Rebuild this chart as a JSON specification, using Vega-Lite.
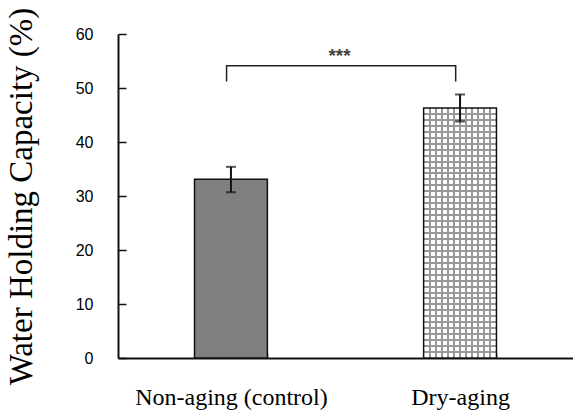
{
  "$schema": "https://vega.github.io/schema/vega-lite/v6.json",
  "autosize": {"type": "none"},
  "padding": {"left": 118, "top": 34, "right": 0, "bottom": 54},
  "width": 455,
  "height": 324,
  "background": "white",
  "config": {"view": {"stroke": null}},
  "datasets": {
    "bars": [
      {"group": "Non-aging (control)", "wh": 33.1, "lo": 30.7, "hi": 35.4},
      {"group": "Dry-aging", "wh": 46.3, "lo": 43.8, "hi": 48.8}
    ],
    "bracket": [
      {"group": "Non-aging (control)", "v": 51.2, "o": 1},
      {"group": "Non-aging (control)", "v": 54.1, "o": 2},
      {"group": "Dry-aging", "v": 54.1, "o": 3},
      {"group": "Dry-aging", "v": 51.2, "o": 4}
    ],
    "sig": [
      {"group": "Non-aging (control)", "v": 56.0, "label": "***"}
    ]
  },
  "encoding": {
    "x": {
      "field": "group",
      "type": "nominal",
      "sort": ["Non-aging (control)", "Dry-aging"],
      "scale": {"paddingInner": 0.682, "paddingOuter": 0.334},
      "axis": {
        "title": null,
        "tickBand": "extent",
        "tickSize": -5,
        "tickColor": "#111",
        "tickWidth": 1.5,
        "domainColor": "#111",
        "domainWidth": 2,
        "labelAngle": 0,
        "labelLimit": 0,
        "labelFont": "Liberation Serif",
        "labelFontSize": 24,
        "labelColor": "#000",
        "labelPadding": 51,
        "labelBaseline": "alphabetic"
      }
    }
  },
  "layer": [
    {
      "data": {"name": "bars"},
      "mark": {"type": "bar", "fill": "#808080"},
      "encoding": {
        "y": {
          "field": "wh",
          "type": "quantitative",
          "scale": {"domain": [0, 60], "nice": false},
          "axis": {
            "values": [0, 10, 20, 30, 40, 50, 60],
            "grid": false,
            "tickSize": -8,
            "tickColor": "#111",
            "tickWidth": 1.5,
            "domainColor": "#111",
            "domainWidth": 2,
            "labelFont": "Liberation Sans",
            "labelFontSize": 16,
            "labelColor": "#000",
            "labelPadding": 33,
            "title": "Water Holding Capacity (%)",
            "titleFont": "Liberation Serif",
            "titleFontSize": 33,
            "titleFontWeight": "normal",
            "titleColor": "#000",
            "titleAngle": -90,
            "titleX": -87,
            "titleY": 162,
            "titleAlign": "center",
            "titleBaseline": "alphabetic"
          }
        }
      }
    },
    {
      "data": {"name": "bars"},
      "transform": [{"filter": "datum.group === 'Dry-aging'"}],
      "mark": {
        "type": "bar",
        "fill": {
          "gradient": "linear", "x1": 0, "y1": 0, "x2": 1, "y2": 0,
          "stops": [
            {"offset": 0, "color": "#ffffff"},
            {"offset": 0.0693, "color": "#ffffff"}, {"offset": 0.0693, "color": "#999999"}, {"offset": 0.0973, "color": "#999999"}, {"offset": 0.0973, "color": "#ffffff"},
            {"offset": 0.1527, "color": "#ffffff"}, {"offset": 0.1527, "color": "#999999"}, {"offset": 0.1807, "color": "#999999"}, {"offset": 0.1807, "color": "#ffffff"},
            {"offset": 0.2360, "color": "#ffffff"}, {"offset": 0.2360, "color": "#999999"}, {"offset": 0.2640, "color": "#999999"}, {"offset": 0.2640, "color": "#ffffff"},
            {"offset": 0.3193, "color": "#ffffff"}, {"offset": 0.3193, "color": "#999999"}, {"offset": 0.3473, "color": "#999999"}, {"offset": 0.3473, "color": "#ffffff"},
            {"offset": 0.4027, "color": "#ffffff"}, {"offset": 0.4027, "color": "#999999"}, {"offset": 0.4307, "color": "#999999"}, {"offset": 0.4307, "color": "#ffffff"},
            {"offset": 0.4860, "color": "#ffffff"}, {"offset": 0.4860, "color": "#999999"}, {"offset": 0.5140, "color": "#999999"}, {"offset": 0.5140, "color": "#ffffff"},
            {"offset": 0.5693, "color": "#ffffff"}, {"offset": 0.5693, "color": "#999999"}, {"offset": 0.5973, "color": "#999999"}, {"offset": 0.5973, "color": "#ffffff"},
            {"offset": 0.6527, "color": "#ffffff"}, {"offset": 0.6527, "color": "#999999"}, {"offset": 0.6807, "color": "#999999"}, {"offset": 0.6807, "color": "#ffffff"},
            {"offset": 0.7360, "color": "#ffffff"}, {"offset": 0.7360, "color": "#999999"}, {"offset": 0.7640, "color": "#999999"}, {"offset": 0.7640, "color": "#ffffff"},
            {"offset": 0.8193, "color": "#ffffff"}, {"offset": 0.8193, "color": "#999999"}, {"offset": 0.8473, "color": "#999999"}, {"offset": 0.8473, "color": "#ffffff"},
            {"offset": 0.9027, "color": "#ffffff"}, {"offset": 0.9027, "color": "#999999"}, {"offset": 0.9307, "color": "#999999"}, {"offset": 0.9307, "color": "#ffffff"},
            {"offset": 1, "color": "#ffffff"}
          ]
        }
      },
      "encoding": {"y": {"field": "wh", "type": "quantitative"}}
    },
    {
      "data": {"name": "bars"},
      "transform": [{"filter": "datum.group === 'Dry-aging'"}],
      "mark": {
        "type": "bar",
        "fill": {
          "gradient": "linear", "x1": 0, "y1": 0, "x2": 0, "y2": 1,
          "stops": [
            {"offset": 0, "color": "rgba(153,153,153,0)"},
            {"offset": 0.0198, "color": "rgba(153,153,153,0)"}, {"offset": 0.0198, "color": "#999999"}, {"offset": 0.0278, "color": "#999999"}, {"offset": 0.0278, "color": "rgba(153,153,153,0)"},
            {"offset": 0.0436, "color": "rgba(153,153,153,0)"}, {"offset": 0.0436, "color": "#999999"}, {"offset": 0.0516, "color": "#999999"}, {"offset": 0.0516, "color": "rgba(153,153,153,0)"},
            {"offset": 0.0674, "color": "rgba(153,153,153,0)"}, {"offset": 0.0674, "color": "#999999"}, {"offset": 0.0754, "color": "#999999"}, {"offset": 0.0754, "color": "rgba(153,153,153,0)"},
            {"offset": 0.0912, "color": "rgba(153,153,153,0)"}, {"offset": 0.0912, "color": "#999999"}, {"offset": 0.0992, "color": "#999999"}, {"offset": 0.0992, "color": "rgba(153,153,153,0)"},
            {"offset": 0.1150, "color": "rgba(153,153,153,0)"}, {"offset": 0.1150, "color": "#999999"}, {"offset": 0.1230, "color": "#999999"}, {"offset": 0.1230, "color": "rgba(153,153,153,0)"},
            {"offset": 0.1389, "color": "rgba(153,153,153,0)"}, {"offset": 0.1389, "color": "#999999"}, {"offset": 0.1469, "color": "#999999"}, {"offset": 0.1469, "color": "rgba(153,153,153,0)"},
            {"offset": 0.1627, "color": "rgba(153,153,153,0)"}, {"offset": 0.1627, "color": "#999999"}, {"offset": 0.1707, "color": "#999999"}, {"offset": 0.1707, "color": "rgba(153,153,153,0)"},
            {"offset": 0.1865, "color": "rgba(153,153,153,0)"}, {"offset": 0.1865, "color": "#999999"}, {"offset": 0.1945, "color": "#999999"}, {"offset": 0.1945, "color": "rgba(153,153,153,0)"},
            {"offset": 0.2103, "color": "rgba(153,153,153,0)"}, {"offset": 0.2103, "color": "#999999"}, {"offset": 0.2183, "color": "#999999"}, {"offset": 0.2183, "color": "rgba(153,153,153,0)"},
            {"offset": 0.2341, "color": "rgba(153,153,153,0)"}, {"offset": 0.2341, "color": "#999999"}, {"offset": 0.2421, "color": "#999999"}, {"offset": 0.2421, "color": "rgba(153,153,153,0)"},
            {"offset": 0.2579, "color": "rgba(153,153,153,0)"}, {"offset": 0.2579, "color": "#999999"}, {"offset": 0.2659, "color": "#999999"}, {"offset": 0.2659, "color": "rgba(153,153,153,0)"},
            {"offset": 0.2817, "color": "rgba(153,153,153,0)"}, {"offset": 0.2817, "color": "#999999"}, {"offset": 0.2897, "color": "#999999"}, {"offset": 0.2897, "color": "rgba(153,153,153,0)"},
            {"offset": 0.3055, "color": "rgba(153,153,153,0)"}, {"offset": 0.3055, "color": "#999999"}, {"offset": 0.3135, "color": "#999999"}, {"offset": 0.3135, "color": "rgba(153,153,153,0)"},
            {"offset": 0.3293, "color": "rgba(153,153,153,0)"}, {"offset": 0.3293, "color": "#999999"}, {"offset": 0.3373, "color": "#999999"}, {"offset": 0.3373, "color": "rgba(153,153,153,0)"},
            {"offset": 0.3531, "color": "rgba(153,153,153,0)"}, {"offset": 0.3531, "color": "#999999"}, {"offset": 0.3611, "color": "#999999"}, {"offset": 0.3611, "color": "rgba(153,153,153,0)"},
            {"offset": 0.3770, "color": "rgba(153,153,153,0)"}, {"offset": 0.3770, "color": "#999999"}, {"offset": 0.3850, "color": "#999999"}, {"offset": 0.3850, "color": "rgba(153,153,153,0)"},
            {"offset": 0.4008, "color": "rgba(153,153,153,0)"}, {"offset": 0.4008, "color": "#999999"}, {"offset": 0.4088, "color": "#999999"}, {"offset": 0.4088, "color": "rgba(153,153,153,0)"},
            {"offset": 0.4246, "color": "rgba(153,153,153,0)"}, {"offset": 0.4246, "color": "#999999"}, {"offset": 0.4326, "color": "#999999"}, {"offset": 0.4326, "color": "rgba(153,153,153,0)"},
            {"offset": 0.4484, "color": "rgba(153,153,153,0)"}, {"offset": 0.4484, "color": "#999999"}, {"offset": 0.4564, "color": "#999999"}, {"offset": 0.4564, "color": "rgba(153,153,153,0)"},
            {"offset": 0.4722, "color": "rgba(153,153,153,0)"}, {"offset": 0.4722, "color": "#999999"}, {"offset": 0.4802, "color": "#999999"}, {"offset": 0.4802, "color": "rgba(153,153,153,0)"},
            {"offset": 0.4960, "color": "rgba(153,153,153,0)"}, {"offset": 0.4960, "color": "#999999"}, {"offset": 0.5040, "color": "#999999"}, {"offset": 0.5040, "color": "rgba(153,153,153,0)"},
            {"offset": 0.5198, "color": "rgba(153,153,153,0)"}, {"offset": 0.5198, "color": "#999999"}, {"offset": 0.5278, "color": "#999999"}, {"offset": 0.5278, "color": "rgba(153,153,153,0)"},
            {"offset": 0.5436, "color": "rgba(153,153,153,0)"}, {"offset": 0.5436, "color": "#999999"}, {"offset": 0.5516, "color": "#999999"}, {"offset": 0.5516, "color": "rgba(153,153,153,0)"},
            {"offset": 0.5674, "color": "rgba(153,153,153,0)"}, {"offset": 0.5674, "color": "#999999"}, {"offset": 0.5754, "color": "#999999"}, {"offset": 0.5754, "color": "rgba(153,153,153,0)"},
            {"offset": 0.5912, "color": "rgba(153,153,153,0)"}, {"offset": 0.5912, "color": "#999999"}, {"offset": 0.5992, "color": "#999999"}, {"offset": 0.5992, "color": "rgba(153,153,153,0)"},
            {"offset": 0.6150, "color": "rgba(153,153,153,0)"}, {"offset": 0.6150, "color": "#999999"}, {"offset": 0.6230, "color": "#999999"}, {"offset": 0.6230, "color": "rgba(153,153,153,0)"},
            {"offset": 0.6389, "color": "rgba(153,153,153,0)"}, {"offset": 0.6389, "color": "#999999"}, {"offset": 0.6469, "color": "#999999"}, {"offset": 0.6469, "color": "rgba(153,153,153,0)"},
            {"offset": 0.6627, "color": "rgba(153,153,153,0)"}, {"offset": 0.6627, "color": "#999999"}, {"offset": 0.6707, "color": "#999999"}, {"offset": 0.6707, "color": "rgba(153,153,153,0)"},
            {"offset": 0.6865, "color": "rgba(153,153,153,0)"}, {"offset": 0.6865, "color": "#999999"}, {"offset": 0.6945, "color": "#999999"}, {"offset": 0.6945, "color": "rgba(153,153,153,0)"},
            {"offset": 0.7103, "color": "rgba(153,153,153,0)"}, {"offset": 0.7103, "color": "#999999"}, {"offset": 0.7183, "color": "#999999"}, {"offset": 0.7183, "color": "rgba(153,153,153,0)"},
            {"offset": 0.7341, "color": "rgba(153,153,153,0)"}, {"offset": 0.7341, "color": "#999999"}, {"offset": 0.7421, "color": "#999999"}, {"offset": 0.7421, "color": "rgba(153,153,153,0)"},
            {"offset": 0.7579, "color": "rgba(153,153,153,0)"}, {"offset": 0.7579, "color": "#999999"}, {"offset": 0.7659, "color": "#999999"}, {"offset": 0.7659, "color": "rgba(153,153,153,0)"},
            {"offset": 0.7817, "color": "rgba(153,153,153,0)"}, {"offset": 0.7817, "color": "#999999"}, {"offset": 0.7897, "color": "#999999"}, {"offset": 0.7897, "color": "rgba(153,153,153,0)"},
            {"offset": 0.8055, "color": "rgba(153,153,153,0)"}, {"offset": 0.8055, "color": "#999999"}, {"offset": 0.8135, "color": "#999999"}, {"offset": 0.8135, "color": "rgba(153,153,153,0)"},
            {"offset": 0.8293, "color": "rgba(153,153,153,0)"}, {"offset": 0.8293, "color": "#999999"}, {"offset": 0.8373, "color": "#999999"}, {"offset": 0.8373, "color": "rgba(153,153,153,0)"},
            {"offset": 0.8531, "color": "rgba(153,153,153,0)"}, {"offset": 0.8531, "color": "#999999"}, {"offset": 0.8611, "color": "#999999"}, {"offset": 0.8611, "color": "rgba(153,153,153,0)"},
            {"offset": 0.8770, "color": "rgba(153,153,153,0)"}, {"offset": 0.8770, "color": "#999999"}, {"offset": 0.8850, "color": "#999999"}, {"offset": 0.8850, "color": "rgba(153,153,153,0)"},
            {"offset": 0.9008, "color": "rgba(153,153,153,0)"}, {"offset": 0.9008, "color": "#999999"}, {"offset": 0.9088, "color": "#999999"}, {"offset": 0.9088, "color": "rgba(153,153,153,0)"},
            {"offset": 0.9246, "color": "rgba(153,153,153,0)"}, {"offset": 0.9246, "color": "#999999"}, {"offset": 0.9326, "color": "#999999"}, {"offset": 0.9326, "color": "rgba(153,153,153,0)"},
            {"offset": 0.9484, "color": "rgba(153,153,153,0)"}, {"offset": 0.9484, "color": "#999999"}, {"offset": 0.9564, "color": "#999999"}, {"offset": 0.9564, "color": "rgba(153,153,153,0)"},
            {"offset": 0.9722, "color": "rgba(153,153,153,0)"}, {"offset": 0.9722, "color": "#999999"}, {"offset": 0.9802, "color": "#999999"}, {"offset": 0.9802, "color": "rgba(153,153,153,0)"},
            {"offset": 1, "color": "rgba(153,153,153,0)"}
          ]
        }
      },
      "encoding": {"y": {"field": "wh", "type": "quantitative"}}
    },
    {
      "data": {"name": "bars"},
      "mark": {"type": "bar", "fillOpacity": 0, "stroke": "#111", "strokeWidth": 1.5},
      "encoding": {"y": {"field": "wh", "type": "quantitative"}}
    },
    {
      "data": {"name": "bars"},
      "mark": {"type": "rule", "color": "#111", "strokeWidth": 2},
      "encoding": {
        "y": {"field": "lo", "type": "quantitative"},
        "y2": {"field": "hi"}
      }
    },
    {
      "data": {"name": "bars"},
      "mark": {"type": "tick", "color": "#111", "size": 10, "thickness": 2},
      "encoding": {"y": {"field": "lo", "type": "quantitative"}}
    },
    {
      "data": {"name": "bars"},
      "mark": {"type": "tick", "color": "#111", "size": 10, "thickness": 2},
      "encoding": {"y": {"field": "hi", "type": "quantitative"}}
    },
    {
      "data": {"name": "bracket"},
      "mark": {"type": "line", "color": "#222", "strokeWidth": 1.5},
      "encoding": {
        "x": {"field": "group", "type": "nominal", "sort": ["Non-aging (control)", "Dry-aging"], "bandPosition": 0.44},
        "y": {"field": "v", "type": "quantitative"},
        "order": {"field": "o", "type": "quantitative"}
      }
    },
    {
      "data": {"name": "sig"},
      "mark": {"type": "text", "font": "Liberation Sans", "fontSize": 19, "fontWeight": "bold", "color": "#444", "baseline": "middle", "align": "center"},
      "encoding": {
        "x": {"field": "group", "type": "nominal", "sort": ["Non-aging (control)", "Dry-aging"], "bandPosition": 1.99},
        "y": {"field": "v", "type": "quantitative"},
        "text": {"field": "label"}
      }
    },
    {
      "mark": {"type": "rule", "color": "#111", "strokeWidth": 2},
      "encoding": {"y": {"datum": 60}}
    }
  ]
}
